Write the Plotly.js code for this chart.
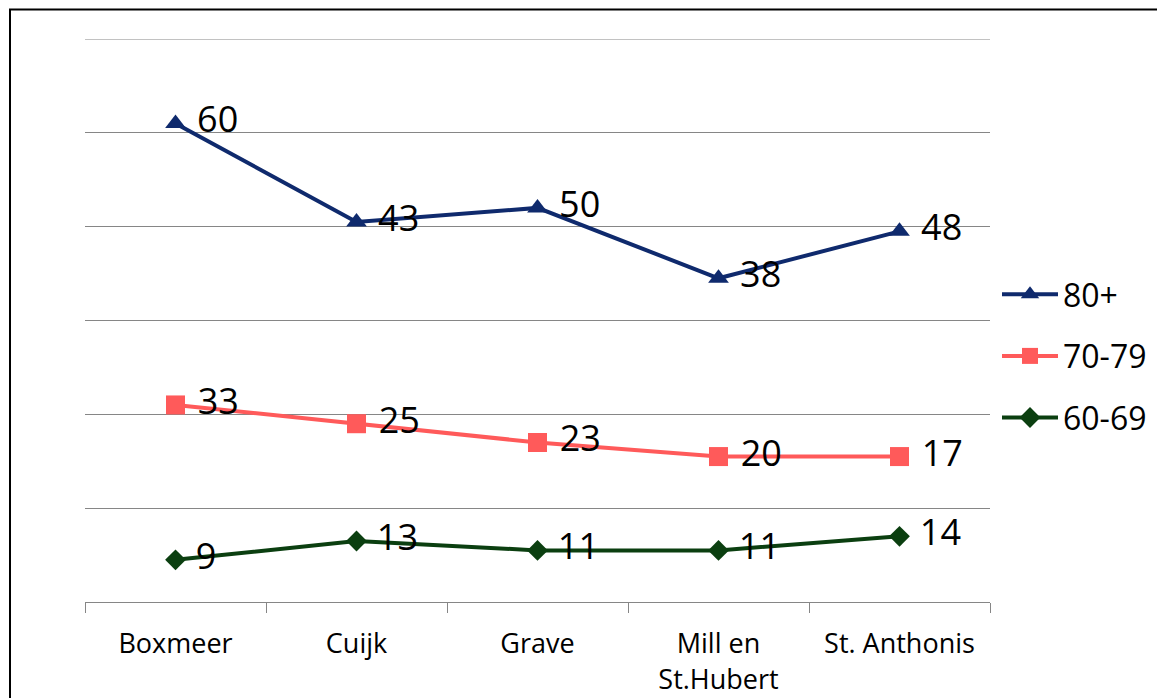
<!DOCTYPE html>
<html>
<head>
<meta charset="utf-8">
<script src="https://cdn.plot.ly/plotly-3.0.1.min.js"></script>
<style>
  html, body { margin: 0; padding: 0; background: #fff; }
  #chart { width: 1157px; height: 698px; }
</style>
</head>
<body>
<div id="chart"></div>
<script>
// Categories (gemeenten)
const categories = ["Boxmeer", "Cuijk", "Grave", "Mill en<br>St.Hubert", "St. Anthonis"];
// Series values (stacked line chart)
const seriesNames = ["60-69", "70-79", "80+"];
const values6069 = [9, 13, 11, 11, 14];
const values7079 = [33, 25, 23, 20, 17];
const values80 = [60, 43, 50, 38, 48];
// y-axis gridline values
const gridValues = [0, 20, 40, 60, 80, 100, 120];

const colors = { "60-69": "#0B3F10", "70-79": "#FF5A5A", "80+": "#0F2A6D" };
const symbols = { "60-69": "diamond", "70-79": "square", "80+": "triangle-up" };
const sizes = { "60-69": 16, "70-79": 19, "80+": 18 };
const ranks = { "60-69": 3, "70-79": 2, "80+": 1 };
const seriesValues = { "60-69": values6069, "70-79": values7079, "80+": values80 };

const traces = seriesNames.map(name => ({
  type: "scatter",
  name: name,
  x: categories,
  y: seriesValues[name],
  text: seriesValues[name].map(v => " " + v),
  stackgroup: "one",
  fill: "none",
  legendgroup: name,
  legendrank: ranks[name],
  mode: "lines+markers+text",
  textposition: "middle right",
  textfont: { family: "Open Sans, sans-serif", size: 36, color: "#000" },
  line: { color: colors[name], width: 4 },
  marker: { color: colors[name], symbol: symbols[name], size: sizes[name] },
  cliponaxis: false,
  hoverinfo: "skip"
}));

const layout = {
  width: 1157,
  height: 698,
  margin: { l: 85, r: 167, t: 39, b: 96, autoexpand: false },
  paper_bgcolor: "#ffffff",
  plot_bgcolor: "#ffffff",
  showlegend: true,
  font: { family: "Open Sans, sans-serif", color: "#000" },
  legend: {
    xref: "container", yref: "container",
    x: 997 / 1157, xanchor: "left",
    y: 1 - 356 / 698, yanchor: "middle",
    traceorder: "grouped",
    tracegroupgap: 17,
    font: { family: "Open Sans, sans-serif", size: 32, color: "#000" },
    itemwidth: 56,
    bgcolor: "rgba(0,0,0,0)"
  },
  xaxis: {
    type: "category",
    range: [-0.5, 4.5],
    showgrid: false,
    showline: true,
    linecolor: "#868686",
    linewidth: 1,
    ticks: "outside",
    tickson: "boundaries",
    ticklen: 10,
    tickcolor: "#868686",
    ticklabelstandoff: 18,
    tickfont: { family: "Open Sans, sans-serif", size: 27, color: "#000" },
    zeroline: false,
    automargin: false,
    fixedrange: true
  },
  yaxis: {
    range: [0, 120],
    tickmode: "array",
    tickvals: gridValues,
    showticklabels: false,
    showgrid: true,
    gridcolor: "#868686",
    gridwidth: 1,
    zeroline: false,
    showline: false,
    ticks: "",
    automargin: false,
    fixedrange: true
  },
  shapes: [{
    type: "line",
    xref: "paper", yref: "y",
    x0: 0, x1: 1,
    y0: gridValues[gridValues.length - 1], y1: gridValues[gridValues.length - 1],
    line: { color: "#868686", width: 1 },
    layer: "below"
  }, {
    type: "rect",
    xref: "paper", yref: "paper",
    x0: (10 - 85) / 905, x1: 1.3,
    y0: -0.3, y1: (602 - 9.5) / 563,
    line: { color: "#000", width: 2 },
    fillcolor: "rgba(0,0,0,0)",
    layer: "above"
  }]
};

Plotly.newPlot("chart", traces, layout, { displayModeBar: false, staticPlot: true });
</script>
</body>
</html>
